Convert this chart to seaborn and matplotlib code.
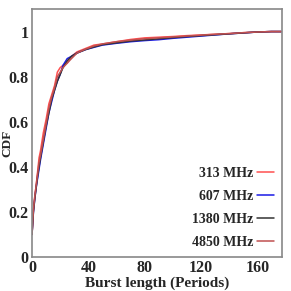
import matplotlib
matplotlib.use("Agg")
import matplotlib.pyplot as plt
import seaborn as sns
import pandas as pd

burst_len = [0, 1, 2, 3, 4, 5, 6, 8, 10, 12, 14, 16, 18, 20, 22, 25, 28, 32, 38,
             44, 50, 60, 70, 80, 90, 100, 110, 120, 130, 140, 150, 160, 170, 177]

cdf_313 = [0.10, 0.21, 0.27, 0.32, 0.38, 0.44, 0.47, 0.55, 0.61, 0.68, 0.72, 0.76, 0.82,
           0.84, 0.85, 0.86, 0.89, 0.91, 0.925, 0.94, 0.945, 0.955, 0.965, 0.972, 0.975,
           0.978, 0.982, 0.985, 0.988, 0.991, 0.995, 0.998, 1.0, 1.0]
cdf_607 = [0.10, 0.20, 0.26, 0.31, 0.35, 0.39, 0.43, 0.50, 0.57, 0.64, 0.69, 0.74, 0.78,
           0.81, 0.85, 0.88, 0.89, 0.905, 0.92, 0.93, 0.94, 0.948, 0.955, 0.96, 0.964,
           0.97, 0.975, 0.98, 0.985, 0.99, 0.994, 0.998, 1.0, 1.0]
cdf_1380 = [0.10, 0.20, 0.26, 0.31, 0.36, 0.40, 0.44, 0.51, 0.58, 0.64, 0.70, 0.74, 0.78,
            0.81, 0.84, 0.87, 0.89, 0.905, 0.92, 0.932, 0.942, 0.95, 0.958, 0.963, 0.968,
            0.973, 0.978, 0.982, 0.986, 0.99, 0.994, 0.998, 1.0, 1.0]
cdf_4850 = [0.10, 0.21, 0.27, 0.32, 0.37, 0.42, 0.45, 0.52, 0.59, 0.66, 0.71, 0.75, 0.80,
            0.82, 0.84, 0.86, 0.88, 0.905, 0.922, 0.936, 0.945, 0.955, 0.962, 0.968, 0.972,
            0.976, 0.98, 0.984, 0.988, 0.991, 0.995, 0.998, 1.0, 1.0]

series_names = ["313 MHz", "607 MHz", "1380 MHz", "4850 MHz"]
series_vals = [cdf_313, cdf_607, cdf_1380, cdf_4850]
colors = ["#ff5050", "#1a1ae6", "#333333", "#c05050"]

x_ticks = [0, 40, 80, 120, 160]
y_ticks = [0, 0.2, 0.4, 0.6, 0.8, 1]
y_tick_labels = ["0", "0.2", "0.4", "0.6", "0.8", "1"]

rows = []
for name, vals in zip(series_names, series_vals):
    for xv, yv in zip(burst_len, vals):
        rows.append({"x": xv, "y": yv, "series": name})
df = pd.DataFrame(rows)

sns.set_style("white")
plt.rcParams["font.family"] = ["Liberation Serif", "DejaVu Serif"]
plt.rcParams["font.weight"] = "bold"

fig = plt.figure(figsize=(2.91, 2.91), dpi=100)
ax = fig.add_axes([0.11, 0.117, 0.859, 0.852])

sns.lineplot(data=df, x="x", y="y", hue="series", palette=dict(zip(series_names, colors)),
             hue_order=series_names, ax=ax, linewidth=1.1, sort=False)

ax.set_xlim(0, 177.5)
ax.set_ylim(0, 1.1)
ax.set_xticks(x_ticks)
ax.set_yticks(y_ticks)
ax.set_yticklabels(y_tick_labels)
for lab in ax.get_xticklabels() + ax.get_yticklabels():
    lab.set_fontweight("bold")
    lab.set_fontsize(11.5)
ax.tick_params(axis="x", direction="in", length=3, width=0.8, color="#888888", pad=2)
ax.tick_params(axis="y", direction="in", length=3, width=0.8, color="#888888", pad=2.5)
ax.set_xlabel("Burst length (Periods)", fontsize=11, fontweight="bold")
ax.xaxis.set_label_coords(0.5, -0.078, transform=ax.transAxes)
ax.xaxis.label.set_va("top")
ax.set_ylabel("CDF", fontsize=9.5, fontweight="bold")
ax.yaxis.set_label_coords(-0.076, 0.46)
for s in ax.spines.values():
    s.set_color("#888888")
    s.set_linewidth(1.2)

leg = ax.legend(loc="lower right", frameon=False, markerfirst=False, fontsize=10,
                handlelength=1.2, handletextpad=0.25, labelspacing=0.72,
                borderaxespad=0.2, bbox_to_anchor=(1.0, 0.0))
for t in leg.get_texts():
    t.set_fontweight("bold")

fig.savefig("out.png", dpi=100)
